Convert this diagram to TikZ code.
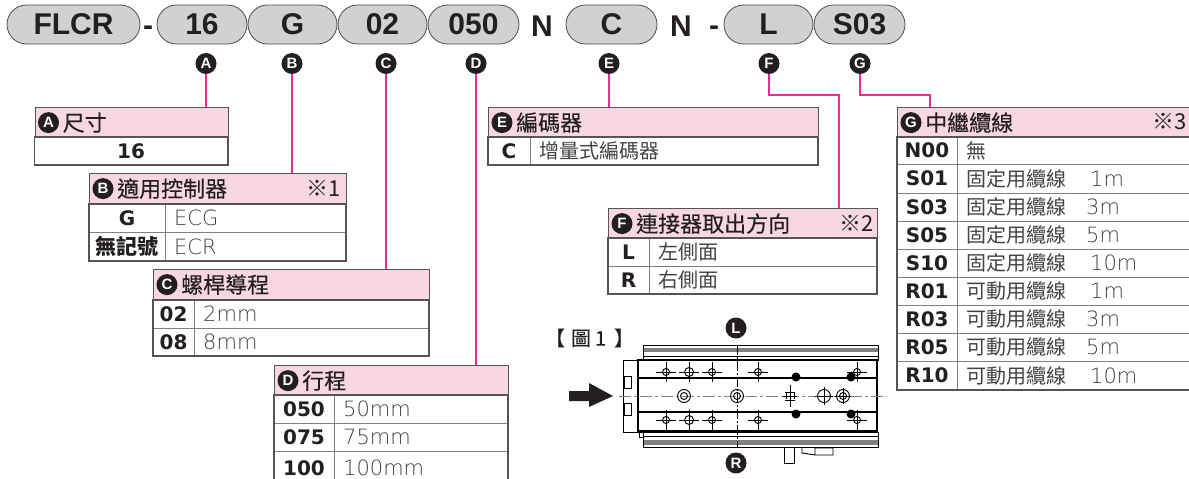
\documentclass[tikz,border=0pt]{standalone}
\usepackage{fontspec}
\usepackage{xcolor}
\setmainfont{Liberation Sans}
\newfontfamily\cjk{Noto Sans CJK TC}
\newfontfamily\cjkhead[FakeBold=0.25]{Noto Sans CJK TC}
\newfontfamily\codefont{DejaVu Sans}
\newfontfamily\thinfont{DejaVu Sans ExtraLight}
\usetikzlibrary{shapes.misc, positioning, calc}
\newcommand{\sz}[1]{\fontsize{#1}{#1}\selectfont}
\definecolor{pillgray}{HTML}{CFD1D3}
\definecolor{headpink}{HTML}{F8D7E5}
\definecolor{leadpink}{HTML}{EC2A98}
\definecolor{framegray}{HTML}{555555}
\definecolor{rulegray}{HTML}{808080}
\definecolor{inkgray}{HTML}{231F20}

\begin{document}
\begin{tikzpicture}[
  x=1pt, y=-1pt,
  pill/.style={rounded rectangle, draw=inkgray!80, line width=0.8pt, fill=pillgray, minimum height=39pt, inner sep=0pt,
    font=\sz{30}\bfseries, text=inkgray},
  plain/.style={font=\sz{30}\bfseries, text=inkgray, inner sep=0pt},
  markdot/.style={circle, fill=inkgray, text=white, inner sep=0pt, minimum size=21pt, font=\sz{15}\bfseries},
  headbox/.style={draw=framegray, line width=1.2pt, fill=headpink, anchor=north west, inner sep=0pt},
  titletext/.style={anchor=west, inner sep=0pt, font=\cjkhead\sz{22}, text=inkgray},
  notetext/.style={anchor=east, inner sep=0pt, font=\cjk\sz{22}, text=inkgray},
  codetext/.style={inner sep=0pt, font=\codefont\sz{20}\bfseries, text=inkgray},
  valtext/.style={anchor=west, inner sep=0pt, font=\thinfont\sz{21}, text=inkgray!85},
  rowline/.style={draw=rulegray, line width=0.9pt},
  frameline/.style={draw=framegray, line width=1.2pt},
  leadline/.style={draw=leadpink, line width=1.3pt},
  partline/.style={draw=black, line width=0.9pt},
  thickline/.style={draw=black, line width=1.6pt},
  fineline/.style={draw=black, line width=0.5pt},
  axisline/.style={draw=rulegray, line width=1pt, dash pattern=on 12pt off 3pt on 3pt off 3pt},
]
  \useasboundingbox (0,0) rectangle (1189,479);

  % part number
  \node[pill, minimum width=133pt] (pFLCR) at (73.5,24.5) {FLCR};
  \node[plain] (dashA) at (148,31) {-};
  \foreach \name/\cx/\wid/\txt in {pA/202/90/16, pB/292.5/89/G, pC/382.5/89/02, pD/473.5/91/050, pE/611.5/91/C, pF/768.5/89/L, pG/859.5/91/S03}
    \node[pill, minimum width=\wid pt] (\name) at (\cx,24.5) {\txt};
  \node[plain] (letN) at (542,26) {N};
  \node[plain] (letM) at (681,26) {N};
  \node[plain] (dashB) at (714,31) {-};

  % letter marks under the part number
  \foreach \name/\cx in {A/206, B/292, C/386, D/476, E/609, F/769, G/860}
    \node[markdot] (call\name) at (\cx,63.5) {\name};

  % table headers
  \foreach \name/\lx/\ty/\wid/\title in {A/34.5/107/193.5/尺寸, B/89/173/257/適用控制器, C/153/269/276/螺桿導程, D/274/365/234/行程, E/488/107/330/編碼器, F/608/208/269/連接器取出方向, G/897/107/298/中繼纜線}{
    \node[headbox, minimum width=\wid pt, minimum height=30pt] (head\name) at (\lx,\ty) {};
    \node[markdot] (mark\name) at ($(head\name.west)+(14,0)$) {\name};
    \node[titletext] (title\name) at ($(head\name.west)+(28,0)$) {\title};
  }
  \node[notetext] (noteB) at ($(headB.east)+(-6,0)$) {※1};
  \node[notetext] (noteF) at ($(headF.east)+(-4,0)$) {※2};
  \node[notetext] (noteG) at (1187,122) {※3};

  % table rows
  \foreach \rowid/\xa/\xb/\xc/\ya/\yb/\code/\val in {
    B1/89/165/346/204/232/G/ECG,
    B2/89/165/346/232/261/{\cjk\sz{21}無記號}/ECR,
    C1/153/194/429/300/328/02/2mm,
    C2/153/194/429/328/356/08/8mm,
    D1/274/334/508/395/423/050/50mm,
    D2/274/334/508/423/451/075/75mm,
    D3/274/334/508/451/485/100/100mm,
    E1/488/530/818/137/165/C/{\cjk\sz{20}增量式編碼器},
    F1/608/649/877/238/266/L/{\cjk\sz{20}左側面},
    F2/608/649/877/266/294/R/{\cjk\sz{20}右側面},
    G0/897/957/1195/137/164/N00/{\cjk\sz{20}無},
    G1/897/957/1195/164/193/S01/{{\cjk\sz{20}固定用纜線　}\hspace{4pt}1m},
    G2/897/957/1195/193/221/S03/{{\cjk\sz{20}固定用纜線　}3m},
    G3/897/957/1195/221/249/S05/{{\cjk\sz{20}固定用纜線　}5m},
    G4/897/957/1195/249/277/S10/{{\cjk\sz{20}固定用纜線　}\hspace{4pt}10m},
    G5/897/957/1195/277/305/R01/{{\cjk\sz{20}可動用纜線　}\hspace{4pt}1m},
    G6/897/957/1195/305/333/R03/{{\cjk\sz{20}可動用纜線　}3m},
    G7/897/957/1195/333/361/R05/{{\cjk\sz{20}可動用纜線　}5m},
    G8/897/957/1195/361/390/R10/{{\cjk\sz{20}可動用纜線　}\hspace{4pt}10m}}{
    \draw[rowline] (\xa,\ya) rectangle (\xc,\yb);
    \draw[rowline] (\xb,\ya) -- (\xb,\yb);
    \node[codetext] (code\rowid) at ({(\xa+\xb)/2},{(\ya+\yb)/2}) {\code};
    \node[valtext] (val\rowid) at (\xb+9,{(\ya+\yb)/2}) {\val};
  }
  % table A has one centred row
  \node[codetext] (codeA1) at (131,151) {16};

  % outer frames
  \draw[frameline] (34.5,137) rectangle (228,165);
  \draw[frameline] (89,204) rectangle (346,261);
  \draw[frameline] (153,300) rectangle (429,356);
  \draw[frameline] (274,395) rectangle (508,485);
  \draw[frameline] (488,137) rectangle (818,165);
  \draw[frameline] (608,238) rectangle (877,294);
  \draw[frameline] (897,137) rectangle (1195,390);

  % leader lines
  \foreach \name in {A,B,C,D,E}
    \draw[leadline] (call\name) -- (call\name |- head\name.north);
  \coordinate (bendF) at (839,95);
  \coordinate (bendG) at (930,95);
  \draw[leadline] (callF) |- (bendF) -- (bendF |- headF.north);
  \draw[leadline] (callG) |- (bendG) -- (bendG |- headG.north);

  % figure 1
  \node[inner sep=0pt, font=\cjkhead\sz{20}, text=inkgray] (figlabel) at (589.5,338) {【\hspace{6pt}圖\hspace{4pt}1\hspace{8pt}】};
  \node[markdot] (markL) at (736,328) {L};
  \node[markdot] (markR) at (736,463) {R};

  \fill[inkgray] (569,391) -- (589,391) -- (589,383) -- (613,396) -- (589,407) -- (589,401) -- (569,401) -- cycle;

  % rails
  \fill[rulegray] (643,348) rectangle (878,352);
  \fill[rulegray] (643,440) rectangle (878,445);
  \draw[partline] (643,345) rectangle (878,360);
  \draw[partline] (643,432) rectangle (878,447);
  \draw[fineline] (643,356) -- (878,356);
  \draw[fineline] (643,436) -- (878,436);
  % body
  \draw[thickline] (638,360) rectangle (877,431);
  \draw[partline] (623,360) rectangle (638,432);
  \draw[partline] (624,376) rectangle (631,388);
  \draw[partline] (624,403) rectangle (631,415);
  \draw[thickline] (638,378) -- (876,378);
  \draw[thickline] (638,412) -- (876,412);
  \draw[partline] (639,432) rectangle (643,437);
  % centre lines
  \draw[axisline] (619,396) -- (887,396);
  \draw[draw=black, line width=0.6pt, dash pattern=on 10pt off 2pt on 2pt off 2pt] (737,345) -- (737,447);
  % mounting holes
  \foreach \cx/\cy/\rad/\arm in {666/372/3.5/10, 689/372/4.5/10, 712/372/3.5/10, 758/372/3.5/10, 857/372/3.5/10,
                                 666/420/3.5/10, 689/420/4.5/10, 712/420/3.5/10, 758/420/3.5/10, 857/420/3.5/10,
                                 824/396/6.5/9}{
    \draw[partline] (\cx,\cy) circle (\rad);
    \draw[fineline] (\cx-\arm,\cy) -- (\cx+\arm,\cy) (\cx,\cy-\arm) -- (\cx,\cy+\arm);
  }
  \foreach \cx/\cy in {684/396, 737/396, 843/396}{
    \draw[partline] (\cx,\cy) circle (6.5);
    \draw[partline] (\cx,\cy) circle (3.5);
  }
  \draw[fineline] (843,388) -- (843,404) (835,396) -- (851,396);
  \draw[fineline] (783,396) -- (797,396) (790,385) -- (790,407);
  \draw[partline] (785,392) -- (795,392) (785,400) -- (795,400) (786,393) -- (786,399) (794,393) -- (794,399);
  \foreach \cx/\cy in {796/377, 851/377, 796/414, 851/414}
    \fill[black] (\cx,\cy) circle (4.5);
  % cable and connector
  \draw[partline] (784,447) -- (784,463) -- (794,463) -- (794,447);
  \draw[partline] (802,447) -- (802,453) -- (815,455) -- (833,455) -- (833,448) -- (815,448) -- (815,455);
\end{tikzpicture}
\end{document}
